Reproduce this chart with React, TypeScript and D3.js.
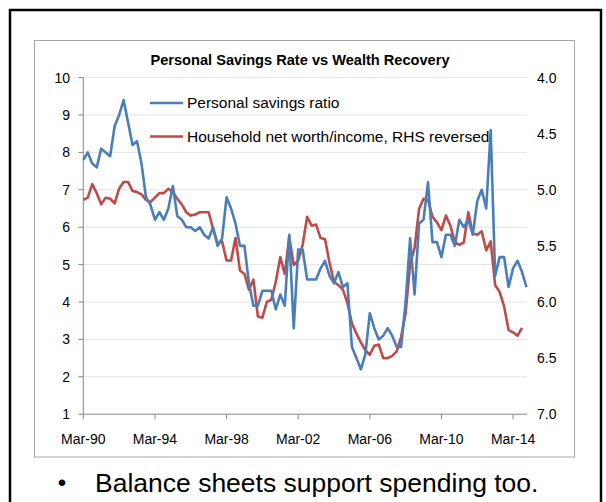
import React from 'react';
import * as d3 from 'd3';

// Personal savings ratio (left axis), quarterly Mar-90 .. Dec-14
const savingsRatio = [
  7.8, 8.0, 7.7, 7.6, 8.1, 8.0, 7.9, 8.7, 9.0, 9.4,
  8.8, 8.2, 8.3, 7.7, 6.8, 6.6, 6.2, 6.4, 6.2, 6.5,
  7.1, 6.3, 6.2, 6.0, 6.0, 5.9, 6.0, 5.8, 5.7, 6.0,
  5.5, 5.7, 6.8, 6.5, 6.1, 5.5, 5.5, 4.5, 3.9, 3.9,
  4.3, 4.3, 4.3, 3.8, 4.2, 3.9, 5.8, 3.3, 5.4, 5.4,
  4.6, 4.6, 4.6, 4.9, 5.1, 4.7, 4.5, 4.8, 4.4, 4.5,
  2.8, 2.5, 2.2, 2.6, 3.7, 3.3, 3.0, 3.1, 3.3, 3.1,
  2.8, 2.8, 4.0, 5.7, 4.2, 6.1, 6.2, 7.2, 5.6, 5.6,
  5.2, 5.8, 5.8, 5.5, 6.2, 6.0, 6.2, 5.8, 6.7, 7.0,
  6.5, 8.6, 4.7, 5.2, 5.2, 4.4, 4.9, 5.1, 4.8, 4.4,
];

// Household net worth / income (right axis, reversed), quarterly Mar-90 .. Sep-14
const netWorthIncome = [
  5.09, 5.07, 4.95, 5.03, 5.13, 5.07, 5.08, 5.12, 4.99, 4.93,
  4.93, 5.01, 5.02, 5.04, 5.09, 5.11, 5.07, 5.03, 5.03, 4.99,
  5.02, 5.08, 5.13, 5.20, 5.23, 5.22, 5.20, 5.20, 5.20, 5.35,
  5.48, 5.46, 5.63, 5.63, 5.43, 5.72, 5.75, 5.89, 5.80, 6.13,
  6.14, 6.00, 5.98, 5.82, 5.60, 5.75, 5.42, 5.67, 5.63, 5.49,
  5.24, 5.32, 5.31, 5.43, 5.44, 5.65, 5.82, 5.85, 5.89, 6.01,
  6.19, 6.28, 6.36, 6.43, 6.47, 6.39, 6.38, 6.50, 6.50, 6.48,
  6.44, 6.31, 6.10, 5.66, 5.52, 5.17, 5.08, 5.09, 5.24, 5.29,
  5.36, 5.23, 5.32, 5.47, 5.49, 5.47, 5.20, 5.39, 5.40, 5.37,
  5.54, 5.46, 5.85, 5.91, 6.04, 6.25, 6.27, 6.30, 6.23,
];

const quarterMonths = ['Mar', 'Jun', 'Sep', 'Dec'];
const firstYear = 1990;
const quarters = savingsRatio.map((_, i) => {
  const yr = (firstYear + Math.floor(i / 4)) % 100;
  return `${quarterMonths[i % 4]}-${String(yr).padStart(2, '0')}`;
});

const xTickLabels = ['Mar-90', 'Mar-94', 'Mar-98', 'Mar-02', 'Mar-06', 'Mar-10', 'Mar-14'];
const leftTicks = [1, 2, 3, 4, 5, 6, 7, 8, 9, 10];
const rightTicks = [4.0, 4.5, 5.0, 5.5, 6.0, 6.5, 7.0];

const title = 'Personal Savings Rate vs Wealth Recovery';
const seriesNames = ['Personal savings ratio', 'Household net worth/income, RHS reversed'];
const bulletText = 'Balance sheets support spending too.';

const BLUE = '#4A7EBB';
const RED = '#BE4B48';
const FONT = '"Liberation Sans", Arial, sans-serif';

export default function App() {
  const x = d3.scalePoint<string>().domain(quarters).range([83.3, 526.5]);
  const yL = d3.scaleLinear().domain([1, 10]).range([414.2, 77.6]);
  const yR = d3.scaleLinear().domain([7, 4]).range([414.2, 77.6]);

  const lineL = d3
    .line<number>()
    .x((_, i) => x(quarters[i]) as number)
    .y((d) => yL(d));
  const lineR = d3
    .line<number>()
    .x((_, i) => x(quarters[i]) as number)
    .y((d) => yR(d));

  const x0 = x(quarters[0]) as number;
  const x1 = 527;

  return (
    <svg
      width={606}
      height={502}
      style={{ position: 'absolute', left: 0, top: 0, background: '#fff' }}
      fontFamily={FONT}
    >
      <rect x={0} y={0} width={606} height={502} fill="#fff" />
      <rect x={10} y={10} width={591} height={520} fill="#fff" stroke="#000" strokeWidth={2.5} />
      <rect x={34.5} y={40.5} width={540} height={416.5} fill="#fff" stroke="#a6a6a6" strokeWidth={1} />

      {/* gridlines */}
      {leftTicks.slice(1).map((t) => (
        <line key={t} x1={x0} x2={x1} y1={yL(t)} y2={yL(t)} stroke="#e3e3e3" strokeWidth={1} />
      ))}

      {/* left axis */}
      <line x1={x0} x2={x0} y1={yL(10)} y2={yL(1)} stroke="#868686" strokeWidth={1} />
      {leftTicks.map((t) => (
        <g key={t}>
          <line x1={x0 - 5} x2={x0} y1={yL(t)} y2={yL(t)} stroke="#868686" strokeWidth={1} />
          <text x={70} y={yL(t)} dy="0.35em" textAnchor="end" fontSize={14} fill="#000">
            {t}
          </text>
        </g>
      ))}

      {/* right axis labels */}
      {rightTicks.map((t) => (
        <text key={t} x={537} y={yR(t)} dy="0.35em" textAnchor="start" fontSize={14} fill="#000">
          {t.toFixed(1)}
        </text>
      ))}

      {/* x axis */}
      <line x1={x0} x2={x1} y1={yL(1)} y2={yL(1)} stroke="#868686" strokeWidth={1} />
      {xTickLabels.map((lab) => {
        const px = x(lab) as number;
        return (
          <g key={lab}>
            <line x1={px} x2={px} y1={yL(1)} y2={yL(1) + 5} stroke="#868686" strokeWidth={1} />
            <text x={px} y={444} textAnchor="middle" fontSize={14} fill="#000">
              {lab}
            </text>
          </g>
        );
      })}

      {/* series */}
      <path d={lineR(netWorthIncome) || ''} fill="none" stroke={RED} strokeWidth={2.6} strokeLinejoin="round" />
      <path d={lineL(savingsRatio) || ''} fill="none" stroke={BLUE} strokeWidth={2.6} strokeLinejoin="round" />

      {/* title */}
      <text x={300} y={65} textAnchor="middle" fontSize={14.6} fontWeight="bold" fill="#000">
        {title}
      </text>

      {/* legend */}
      <line x1={150} x2={183} y1={103} y2={103} stroke={BLUE} strokeWidth={2.6} />
      <text x={187} y={103} dy="0.35em" fontSize={15.5} fill="#000">
        {seriesNames[0]}
      </text>
      <line x1={150} x2={183} y1={136.5} y2={136.5} stroke={RED} strokeWidth={2.6} />
      <text x={187} y={136.5} dy="0.35em" fontSize={15.5} fill="#000">
        {seriesNames[1]}
      </text>

      {/* bullet text */}
      <text x={62} y={483} dy="0.35em" textAnchor="middle" fontSize={24} fill="#000">
        •
      </text>
      <text x={95} y={483} dy="0.35em" fontSize={26.5} fill="#000">
        {bulletText}
      </text>
    </svg>
  );
}
